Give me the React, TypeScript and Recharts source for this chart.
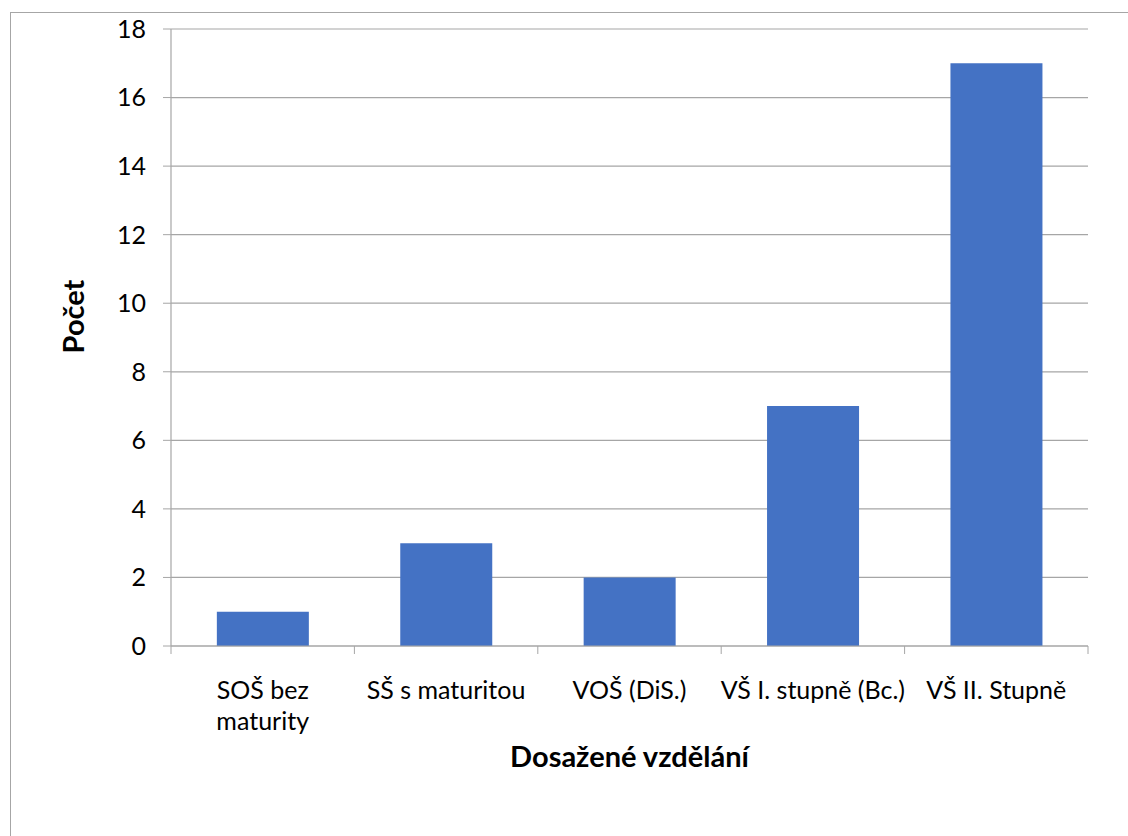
import { Bar, BarChart, CartesianGrid, Label, XAxis, YAxis } from 'recharts';

const categories = [
  'SOŠ bez\nmaturity',
  'SŠ s maturitou',
  'VOŠ (DiS.)',
  'VŠ I. stupně (Bc.)',
  'VŠ II. Stupně',
];
const counts = [1, 3, 2, 7, 17];
const yTicks = [0, 2, 4, 6, 8, 10, 12, 14, 16, 18];

const data = categories.map((name, i) => ({ name, count: counts[i] }));

const FONT = 'Lato, "Noto Sans", sans-serif';
const GRAY = '#a6a6a6';

// label lines plus the tick marks between categories (Excel style)
function CategoryTick({ x, y, payload, index, visibleTicksCount }: any) {
  const lines = String(payload.value).split('\n');
  const half = payload.offset ?? 0;
  const last = index === visibleTicksCount - 1;
  return (
    <g>
      <line x1={x - half} x2={x - half} y1={y} y2={y + 8} stroke={GRAY} />
      {last && <line x1={x + half} x2={x + half} y1={y} y2={y + 8} stroke={GRAY} />}
      <text x={x} y={y} textAnchor="middle" fill="#000" fontFamily={FONT} fontSize={25}>
        {lines.map((l, i) => (
          <tspan key={i} x={x} dy={i === 0 ? 53 : 31}>
            {l}
          </tspan>
        ))}
      </text>
    </g>
  );
}

function YTitle({ viewBox }: any) {
  const cx = viewBox.x + 72;
  const cy = viewBox.y + viewBox.height / 2 - 21;
  return (
    <text
      x={cx}
      y={cy}
      transform={`rotate(-90 ${cx} ${cy})`}
      textAnchor="middle"
      dominantBaseline="central"
      fontFamily={FONT}
      fontWeight="bold"
      fontSize={29}
      fill="#000"
    >
      Počet
    </text>
  );
}

export default function App() {
  return (
    <div
      style={{
        position: 'absolute',
        left: 0,
        top: 0,
        width: 1128,
        height: 836,
        overflow: 'hidden',
        background: '#fff',
      }}
    >
      <div
        style={{
          position: 'absolute',
          left: 10,
          top: 12,
          width: 1200,
          height: 900,
          border: `1px solid ${GRAY}`,
        }}
      />
      <div style={{ position: 'absolute', left: 0, top: 0 }}>
        <BarChart
          width={1128}
          height={836}
          data={data}
          margin={{ top: 29, right: 40, bottom: 0, left: 0 }}
          barCategoryGap="25%"
        >
          <CartesianGrid vertical={false} stroke={GRAY} strokeWidth={1.2} />
          <XAxis
            dataKey="name"
            height={190}
            tickSize={0}
            tickMargin={0}
            axisLine={{ stroke: GRAY, strokeWidth: 1.2 }}
            tickLine={false}
            tick={<CategoryTick />}
            interval={0}
          >
            <Label
              value="Dosažené vzdělání"
              position="insideBottom"
              offset={69}
              fontFamily={FONT}
              fontWeight="bold"
              fontSize={29}
              fill="#000"
            />
          </XAxis>
          <YAxis
            width={171}
            domain={[0, 18]}
            ticks={yTicks}
            interval={0}
            tickSize={8}
            tickMargin={17}
            axisLine={{ stroke: GRAY, strokeWidth: 1.2 }}
            tickLine={{ stroke: GRAY }}
            tick={{ fill: '#000', fontFamily: FONT, fontSize: 25 }}
          >
            <Label content={<YTitle />} />
          </YAxis>
          <Bar dataKey="count" fill="#4472C4" isAnimationActive={false} />
        </BarChart>
      </div>
    </div>
  );
}
